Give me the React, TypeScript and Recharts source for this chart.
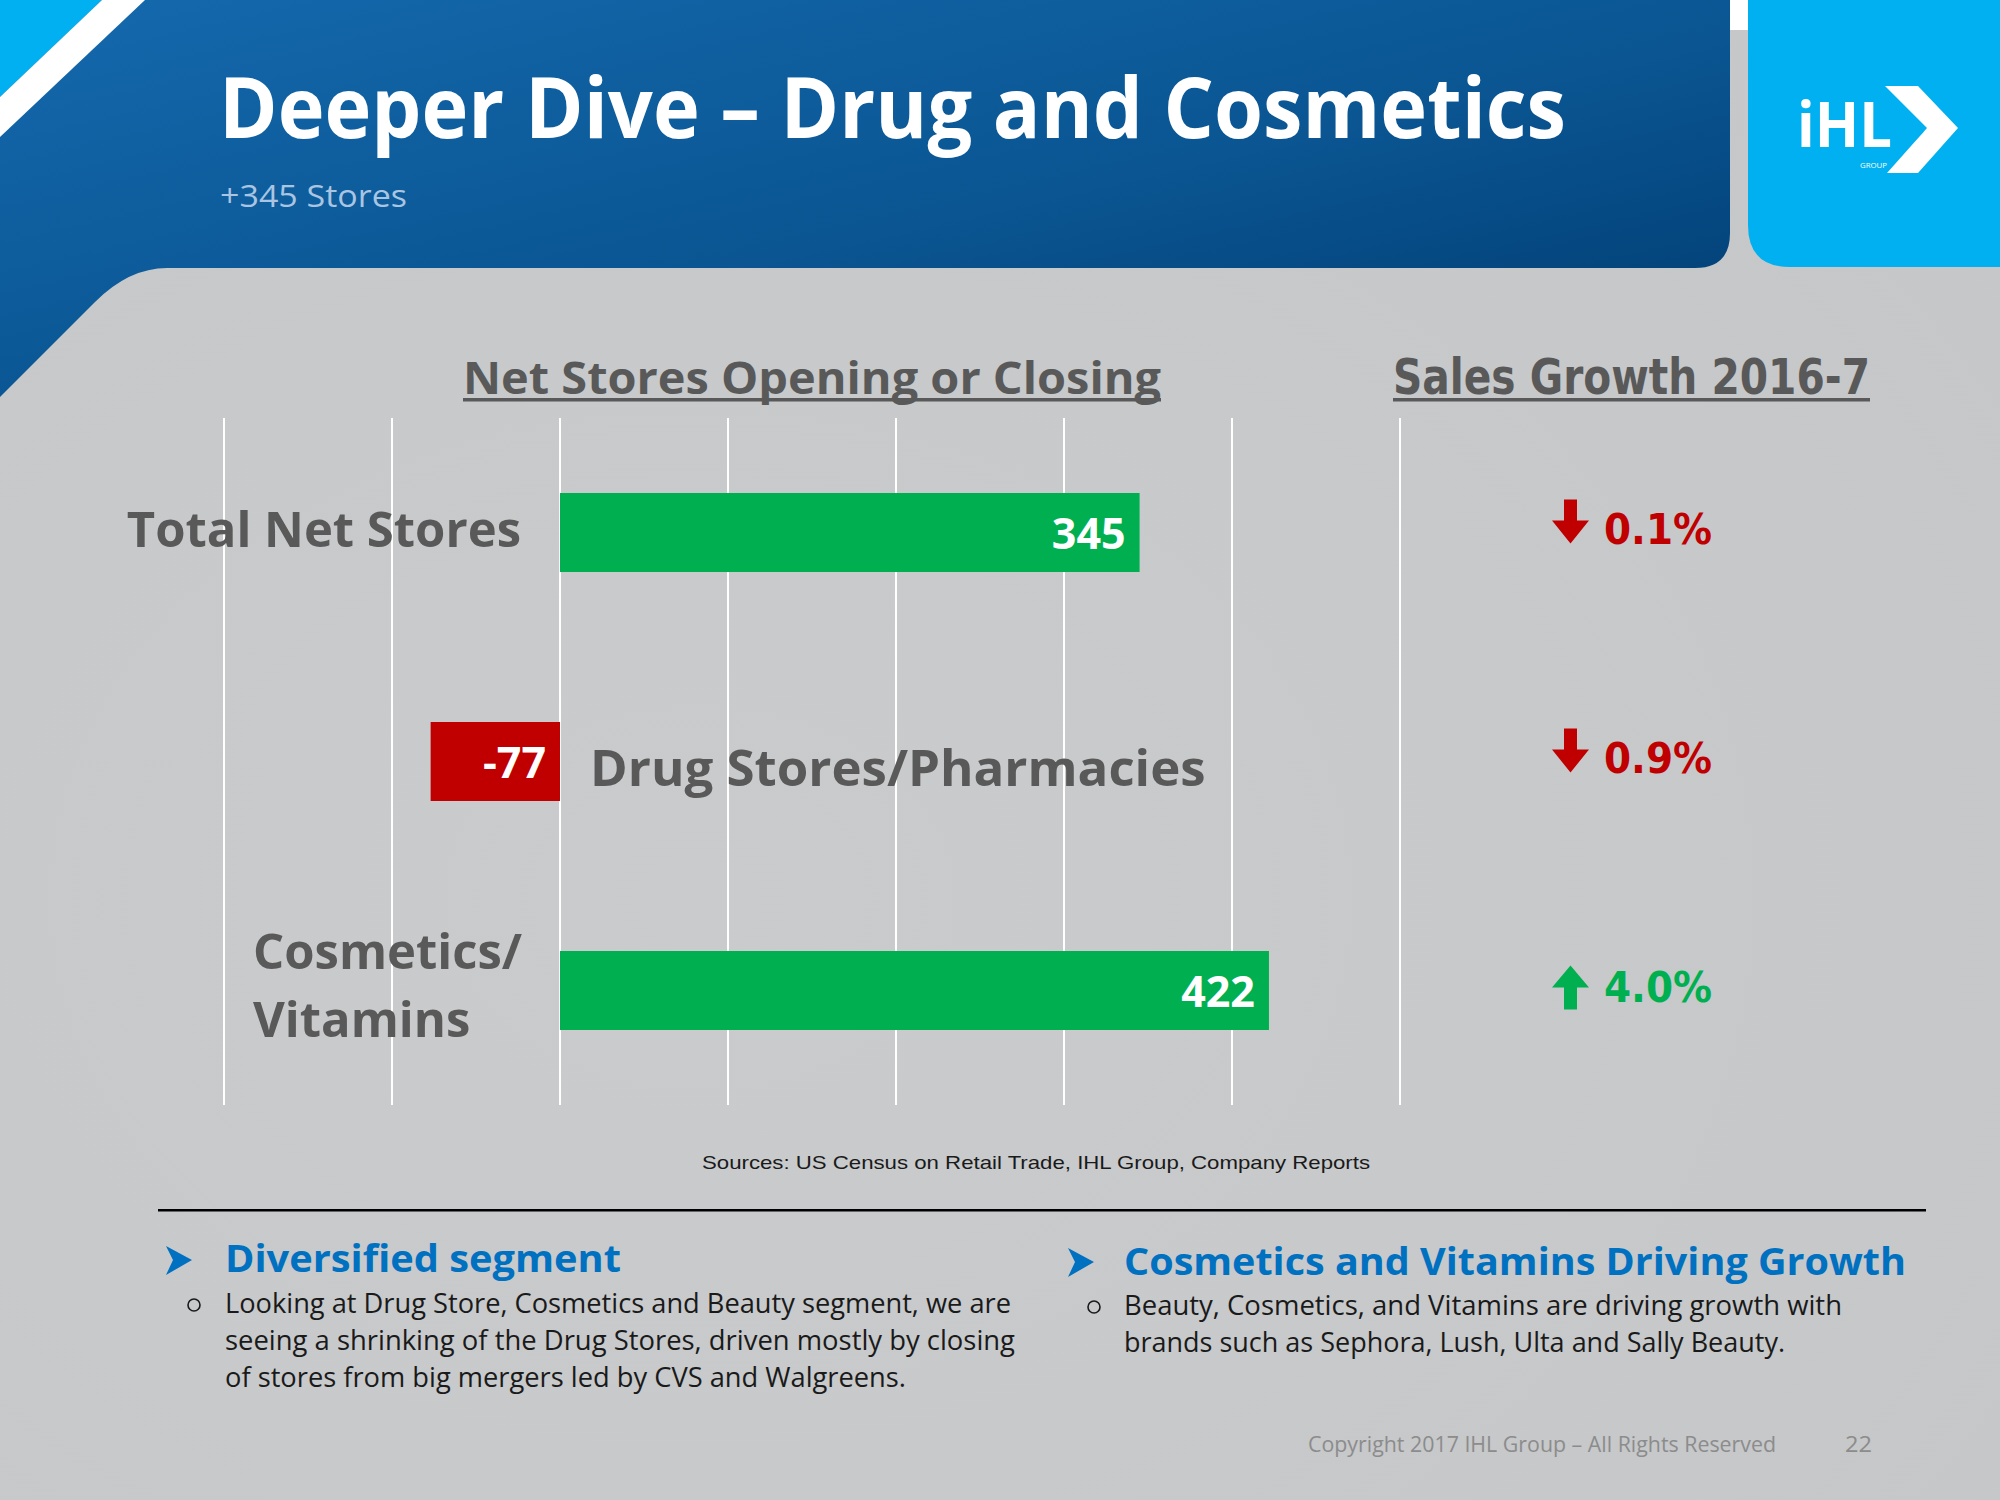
import React from "react";
import { BarChart, Bar, XAxis, YAxis, CartesianGrid, Cell, LabelList } from "recharts";

const categories = ["Total Net Stores", "Drug Stores/Pharmacies", "Cosmetics/\nVitamins"];
const netStores = [345, -77, 422];
const salesGrowth = [-0.1, -0.9, 4.0];
const xTicks = [-200, -100, 0, 100, 200, 300, 400, 500];

const data = categories.map((name, i) => ({ name, value: netStores[i], growth: salesGrowth[i] }));

const GREEN = "#00b050";
const RED = "#c00000";
const LABEL_GRAY = "#595959";
const SANS = "'Open Sans', 'Noto Sans', sans-serif";
const WIDE = "'DejaVu Sans', Verdana, sans-serif";

function T(props: any) {
  const { x, y, w, size, weight = 400, fill, family = SANS, anchor = "start", children } = props;
  return (
    <text
      x={x}
      y={y}
      fontSize={size}
      fontWeight={weight}
      fill={fill}
      fontFamily={family}
      textAnchor={anchor}
      textLength={w}
      lengthAdjust="spacingAndGlyphs"
    >
      {children}
    </text>
  );
}

function ValueLabel(props: any) {
  const { x, y, width, height, value } = props;
  const right = Math.max(x, x + width);
  const cy = y + height / 2;
  return (
    <text
      x={right - 14}
      y={cy + 16}
      textAnchor="end"
      fontSize={43}
      fontWeight={700}
      fill="#ffffff"
      fontFamily={SANS}
    >
      {value}
    </text>
  );
}

function CategoryLabel(props: any) {
  const { x, y, width, height, value } = props;
  const idx = categories.indexOf(value);
  const v = netStores[idx];
  const left = Math.min(x, x + width);
  const right = Math.max(x, x + width);
  const cy = y + height / 2;
  const lines = String(value).split("\n");
  const common = {
    fontSize: 49,
    fontWeight: 700,
    fill: LABEL_GRAY,
    fontFamily: SANS,
  };
  if (v < 0) {
    return (
      <text x={right + 30} y={cy + 24} textAnchor="start" {...common} fontSize={51}>
        {value}
      </text>
    );
  }
  if (lines.length === 1) {
    return (
      <text x={left - 39} y={cy + 14} textAnchor="end" {...common}>
        {value}
      </text>
    );
  }
  return (
    <text x={left - 307} y={cy - 22} textAnchor="start" {...common}>
      {lines.map((ln, i) => (
        <tspan key={i} x={left - 307} dy={i === 0 ? 0 : 68}>
          {ln}
        </tspan>
      ))}
    </text>
  );
}

function GrowthTick(props: any) {
  const { x, y, payload } = props;
  const idx = categories.indexOf(payload.value);
  const g = salesGrowth[idx];
  const down = g < 0;
  const color = down ? RED : GREEN;
  const ax = x + 152;
  let arrow;
  if (down) {
    const ty = y - 33;
    arrow = (
      <polygon
        points={`${ax + 12},${ty} ${ax + 25},${ty} ${ax + 25},${ty + 21} ${ax + 37},${ty + 21} ${ax + 18.5},${ty + 44} ${ax},${ty + 21} ${ax + 12},${ty + 21}`}
        fill={color}
      />
    );
  } else {
    const ty = y - 25;
    arrow = (
      <polygon
        points={`${ax + 18.5},${ty} ${ax + 37},${ty + 22} ${ax + 25},${ty + 22} ${ax + 25},${ty + 44} ${ax + 12},${ty + 44} ${ax + 12},${ty + 22} ${ax},${ty + 22}`}
        fill={color}
      />
    );
  }
  return (
    <g>
      {arrow}
      <text
        x={x + 204}
        y={y + 11}
        fontSize={43}
        fontWeight={700}
        fill={color}
        fontFamily={WIDE}
        textLength={108}
        lengthAdjust="spacingAndGlyphs"
      >
        {Math.abs(g).toFixed(1) + "%"}
      </text>
    </g>
  );
}

function Background() {
  return (
    <svg width={2000} height={1500} style={{ position: "absolute", left: 0, top: 0 }}>
      <defs>
        <linearGradient id="hdr" x1="0" y1="0" x2="1" y2="1">
          <stop offset="0" stopColor="#1469ad" />
          <stop offset="0.55" stopColor="#0a5592" />
          <stop offset="1" stopColor="#003a6e" />
        </linearGradient>
        <radialGradient id="bg" cx="0.35" cy="0.6" r="0.8">
          <stop offset="0" stopColor="#c9cbcd" />
          <stop offset="1" stopColor="#c5c7c9" />
        </radialGradient>
      </defs>
      <rect x={0} y={0} width={2000} height={1500} fill="url(#bg)" />
      <rect x={1725} y={0} width={30} height={30} fill="#ffffff" />
      <path d="M0,0 H1730 V233 Q1730,268 1695,268 H167 Q129,268 95,302 L0,397 Z" fill="url(#hdr)" />
      <polygon points="0,0 102,0 0,97" fill="#00b0f0" />
      <polygon points="102,0 145,0 0,137 0,97" fill="#ffffff" />
      <path d="M1748,0 H2000 V267 H1790 Q1748,267 1748,225 Z" fill="#00b0f0" />
      <polygon points="1885,86 1918,86 1958,128 1918,173 1887,173 1927,128" fill="#ffffff" />
      <line x1={1887} y1={168} x2={1923} y2={131} stroke="#00b0f0" strokeWidth={2} />
      <T x={1797} y={147} w={95} size={62} weight={700} fill="#ffffff">iHL</T>
      <T x={1860} y={168} w={27} size={7} weight={400} fill="#ffffff">GROUP</T>

      <T x={219} y={138} w={1347} size={84} weight={700} fill="#ffffff">Deeper Dive – Drug and Cosmetics</T>
      <T x={220} y={207} w={187} size={31} weight={400} fill="#a9c5e2">+345 Stores</T>

      <T x={463} y={394} w={698} size={44} weight={700} fill={LABEL_GRAY}>Net Stores Opening or Closing</T>
      <rect x={463} y={398} width={698} height={3.5} fill={LABEL_GRAY} />
      <T x={1393} y={394} w={477} size={49} weight={700} fill={LABEL_GRAY} family={WIDE}>Sales Growth 2016-7</T>
      <rect x={1393} y={398} width={477} height={3.5} fill={LABEL_GRAY} />

      <T x={702} y={1169} w={668} size={19} weight={400} fill="#1a1a1a" family="'Liberation Sans', Arial, sans-serif">Sources: US Census on Retail Trade, IHL Group, Company Reports</T>
      <rect x={158} y={1209} width={1768} height={2.5} fill="#000000" />

      <polygon points="166,1246 192,1260 166,1275 173,1260" fill="#0070c0" />
      <T x={225} y={1272} w={396} size={38} weight={700} fill="#0070c0">Diversified segment</T>
      <circle cx={194} cy={1305} r={6} fill="none" stroke="#1a1a1a" strokeWidth={1.6} />
      <T x={225} y={1313} w={786} size={28} fill="#1a1a1a">Looking at Drug Store, Cosmetics and Beauty segment, we are</T>
      <T x={225} y={1350} w={790} size={28} fill="#1a1a1a">seeing a shrinking of the Drug Stores, driven mostly by closing</T>
      <T x={225} y={1387} w={681} size={28} fill="#1a1a1a">of stores from big mergers led by CVS and Walgreens.</T>

      <polygon points="1068,1248 1094,1262 1068,1277 1075,1262" fill="#0070c0" />
      <T x={1124} y={1275} w={782} size={38} weight={700} fill="#0070c0">Cosmetics and Vitamins Driving Growth</T>
      <circle cx={1094} cy={1307} r={6} fill="none" stroke="#1a1a1a" strokeWidth={1.6} />
      <T x={1124} y={1315} w={718} size={28} fill="#1a1a1a">Beauty, Cosmetics, and Vitamins are driving growth with</T>
      <T x={1124} y={1352} w={661} size={28} fill="#1a1a1a">brands such as Sephora, Lush, Ulta and Sally Beauty.</T>

      <T x={1308} y={1452} w={468} size={22} fill="#8c8c8c">Copyright  2017 IHL Group – All Rights Reserved</T>
      <T x={1845} y={1452} w={27} size={22} fill="#8c8c8c">22</T>
    </svg>
  );
}

export default function App() {
  return (
    <div style={{ position: "absolute", left: 0, top: 0, width: 2000, height: 1500, overflow: "hidden" }}>
      <Background />
      <div style={{ position: "absolute", left: 0, top: 0 }}>
        <BarChart
          layout="vertical"
          width={2000}
          height={1500}
          data={data}
          margin={{ top: 418, right: 0, bottom: 395, left: 224 }}
        >
          <CartesianGrid horizontal={false} vertical={true} stroke="#ffffff" strokeWidth={2} strokeOpacity={1} />
          <XAxis type="number" domain={[-200, 500]} ticks={xTicks} hide />
          <YAxis
            type="category"
            dataKey="name"
            orientation="right"
            width={600}
            axisLine={false}
            tickLine={false}
            tickSize={0}
            tickMargin={0}
            interval={0}
            tick={<GrowthTick />}
          />
          <Bar dataKey="value" barSize={79} isAnimationActive={false}>
            {data.map((d, i) => (
              <Cell key={i} fill={d.value < 0 ? RED : GREEN} />
            ))}
            <LabelList dataKey="value" content={ValueLabel} />
            <LabelList dataKey="name" content={CategoryLabel} />
          </Bar>
        </BarChart>
      </div>
    </div>
  );
}
